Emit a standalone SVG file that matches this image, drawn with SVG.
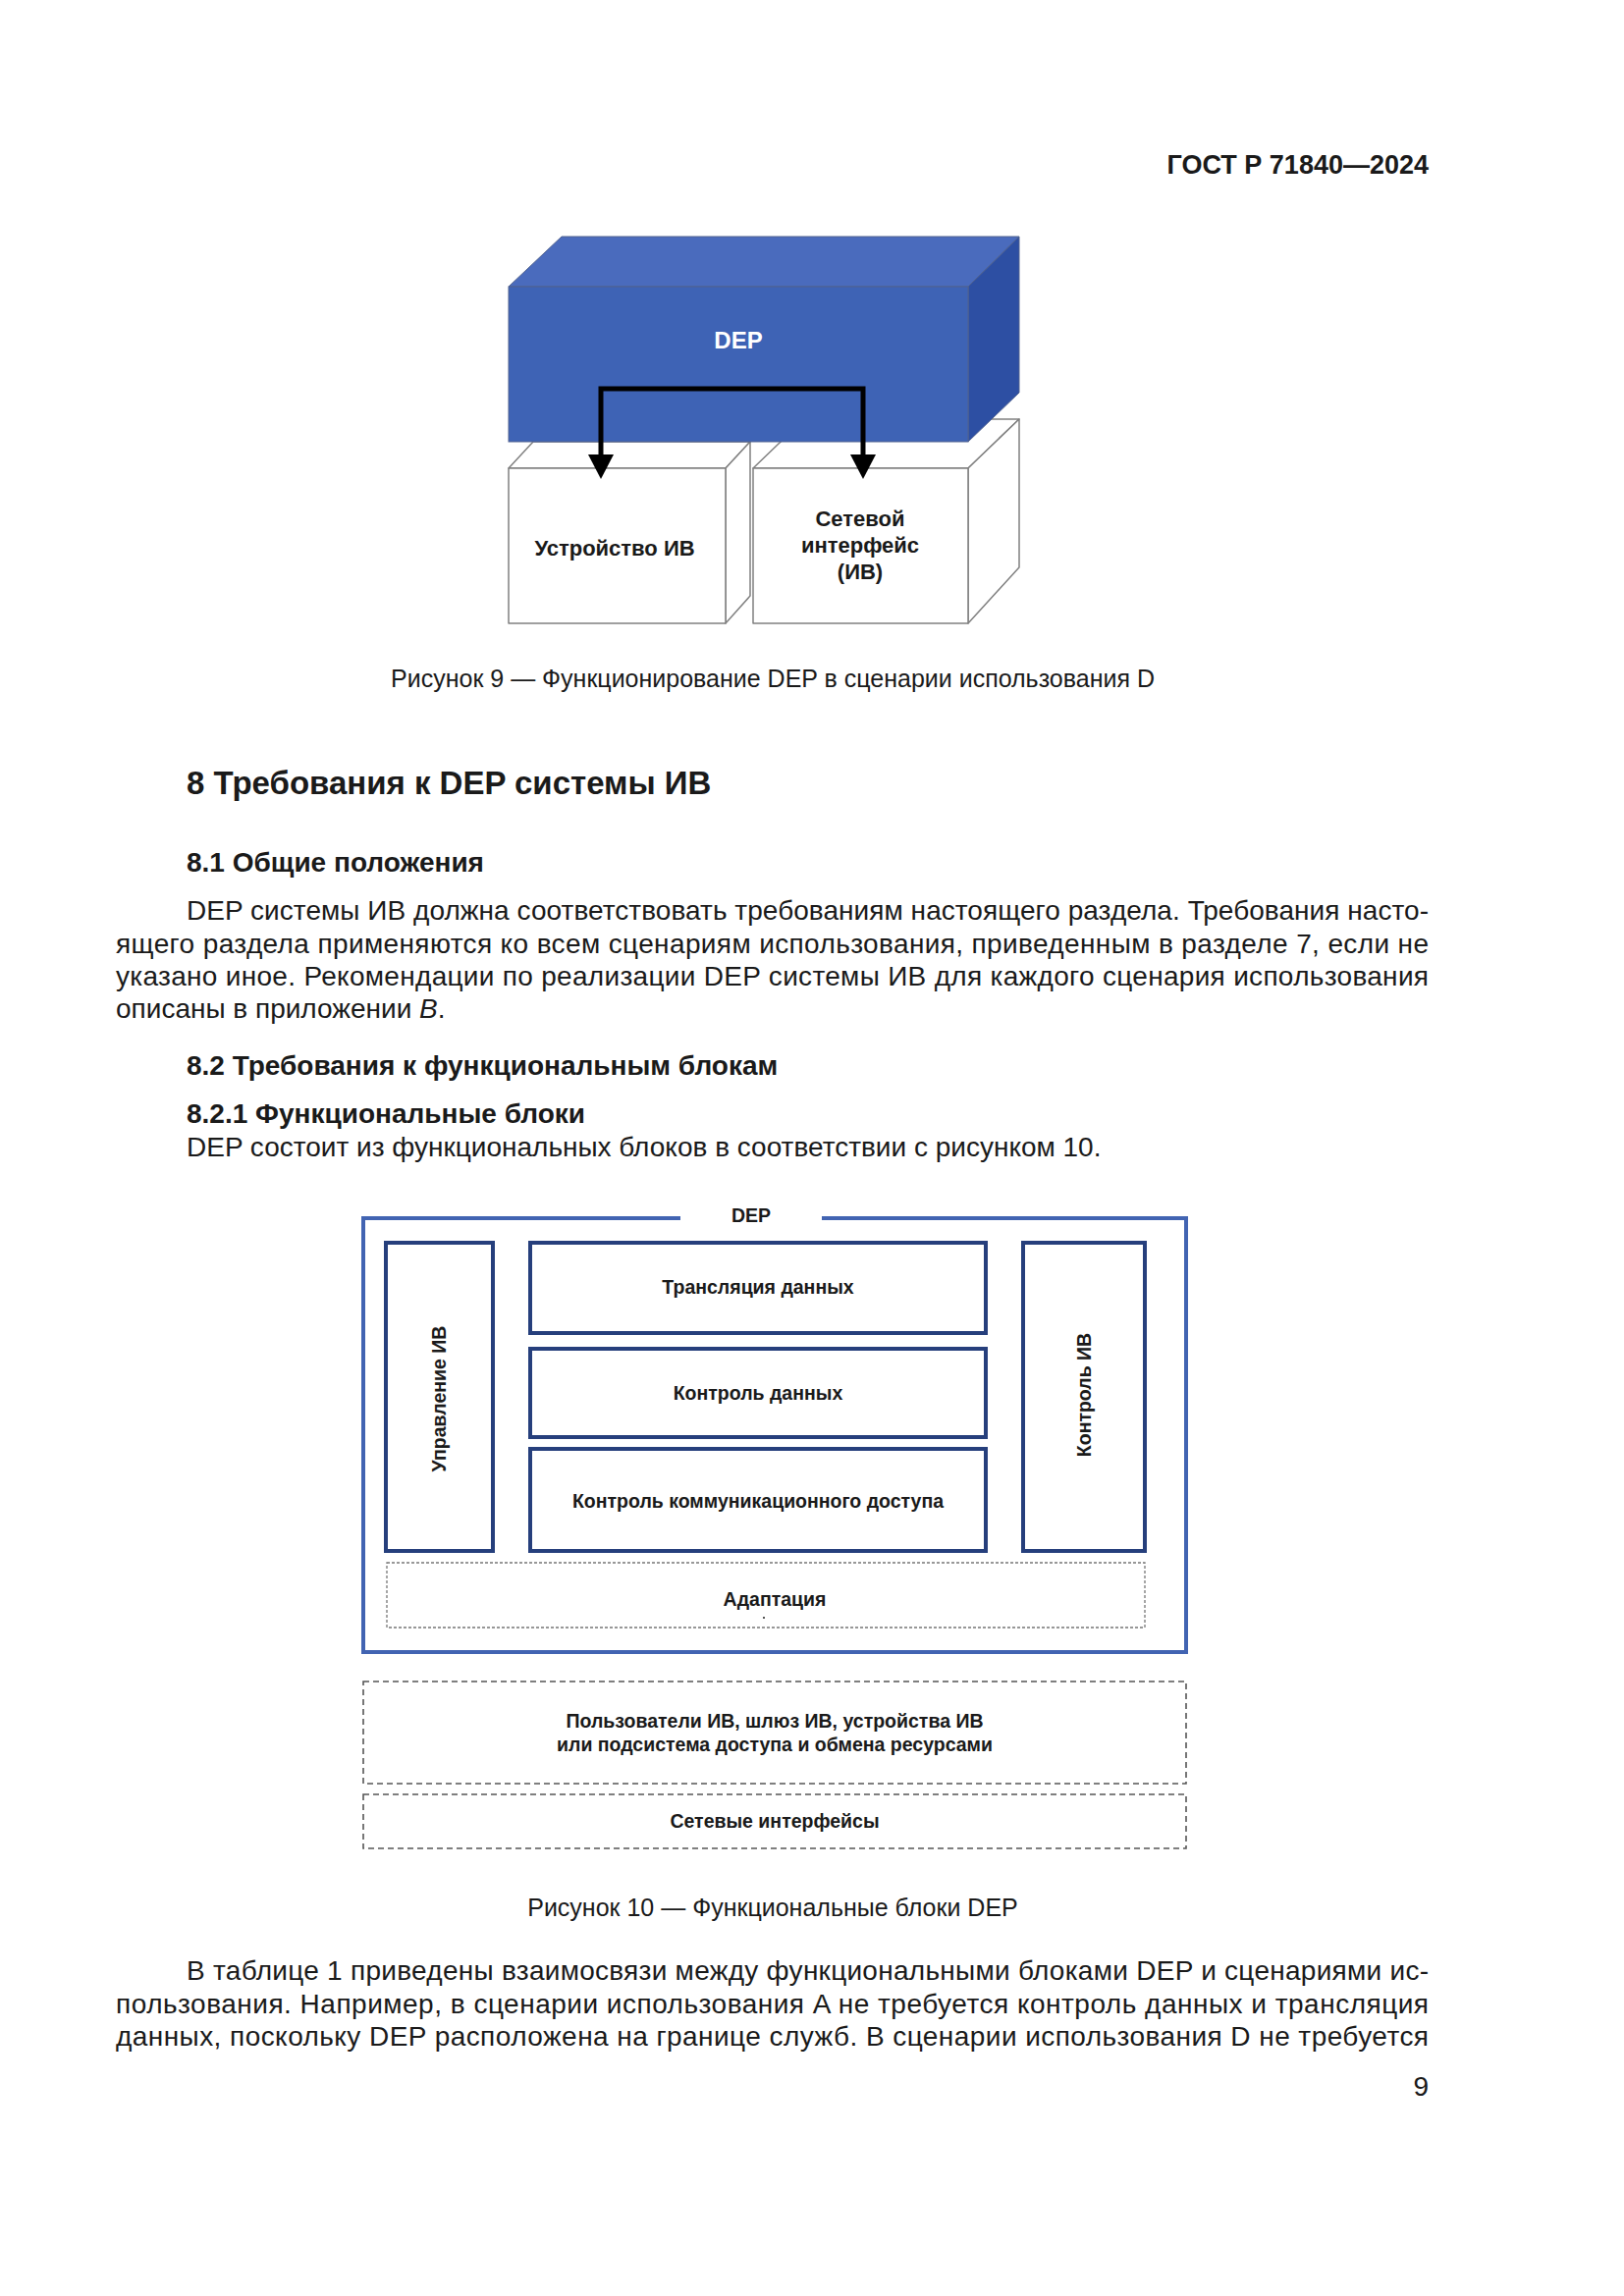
<svg xmlns="http://www.w3.org/2000/svg" width="1654" height="2339" viewBox="0 0 1654 2339">
<defs>
<style>
text{font-family:"Liberation Sans",Arial,sans-serif;fill:#1a1a1a}
.hdr{font-size:27px;font-weight:bold}
.h1{font-size:33px;font-weight:bold}
.h2{font-size:28px;font-weight:bold}
.body{font-size:28px}
.cap{font-size:25px;text-anchor:middle}
.f9{font-size:22px;font-weight:bold;text-anchor:middle}
.f10{font-size:19.5px;font-weight:bold;text-anchor:middle}
.wbox{fill:#ffffff;stroke:#808080;stroke-width:1.5;stroke-linejoin:round}
.outer{fill:none;stroke:#4264b2;stroke-width:4}
.inner{fill:#ffffff;stroke:#263f7c;stroke-width:4}
.dash1{fill:none;stroke:#777;stroke-width:1.3;stroke-dasharray:3 2}
.dash2{fill:none;stroke:#555;stroke-width:1.6;stroke-dasharray:6 4}
.conn{fill:none;stroke:#000;stroke-width:5}
</style>
<marker id="ah" markerUnits="userSpaceOnUse" markerWidth="26" markerHeight="26" viewBox="0 0 26 26" refX="0" refY="13" orient="auto-start-reverse">
<path d="M0,0 L25,13 L0,26 z" fill="#000"/>
</marker>
</defs>
<rect width="1654" height="2339" fill="#ffffff"/>

<text class="hdr" x="1455" y="177" text-anchor="end">ГОСТ Р 71840—2024</text>

<!-- Figure 9 -->
<g id="node-device">
<polygon class="wbox" points="518,477 543,450 764,450 739,477"/>
<polygon class="wbox" points="739,477 764,450 764,607 739,635"/>
<rect class="wbox" x="518" y="477" width="221" height="158"/>
<text class="f9" x="626" y="566">Устройство ИВ</text>
</g>
<g id="node-netif">
<polygon class="wbox" points="767,477 819,427 1038,427 986,477"/>
<polygon class="wbox" points="986,477 1038,427 1038,578 986,635"/>
<rect class="wbox" x="767" y="477" width="219" height="158"/>
<text class="f9" x="876" y="536">Сетевой</text>
<text class="f9" x="876" y="563">интерфейс</text>
<text class="f9" x="876" y="590">(ИВ)</text>
</g>
<g id="node-dep">
<polygon points="518,292 572,241 1038,241 986,292" fill="#4a6bbd" stroke="#50628f" stroke-width="1"/>
<polygon points="986,292 1038,241 1038,400 986,450" fill="#2d4fa3" stroke="#50628f" stroke-width="1"/>
<rect x="518" y="292" width="468" height="158" fill="#3e63b5" stroke="#50628f" stroke-width="1"/>
<text x="752" y="355" font-size="24" font-weight="bold" text-anchor="middle" style="fill:#ffffff">DEP</text>
</g>
<g id="connectors-fig9">
<path class="conn" d="M612,463 V396 H879 V463" marker-start="url(#ah)" marker-end="url(#ah)"/>
</g>
<text class="cap" x="787" y="700">Рисунок 9 — Функционирование DEP в сценарии использования D</text>

<!-- Section text -->
<text class="h1" x="190" y="809">8 Требования к DEP системы ИВ</text>
<text class="h2" x="190" y="888">8.1 Общие положения</text>
<text class="body" x="190" y="937" textLength="1265" lengthAdjust="spacing">DEP системы ИВ должна соответствовать требованиям настоящего раздела. Требования насто-</text>
<text class="body" x="118" y="971" textLength="1337" lengthAdjust="spacing">ящего раздела применяются ко всем сценариям использования, приведенным в разделе 7, если не</text>
<text class="body" x="118" y="1004" textLength="1337" lengthAdjust="spacing">указано иное. Рекомендации по реализации DEP системы ИВ для каждого сценария использования</text>
<text class="body" x="118" y="1037">описаны в приложении <tspan font-style="italic">B</tspan>.</text>
<text class="h2" x="190" y="1095">8.2 Требования к функциональным блокам</text>
<text class="h2" x="190" y="1144">8.2.1 Функциональные блоки</text>
<text class="body" x="190" y="1178">DEP состоит из функциональных блоков в соответствии с рисунком 10.</text>

<!-- Figure 10 -->
<g id="node-dep-frame">
<path class="outer" d="M693,1241 H370 V1683 H1208 V1241 H837"/>
<text class="f10" x="765" y="1245">DEP</text>
</g>
<g id="node-mgmt">
<rect class="inner" x="393" y="1266" width="109" height="314"/>
<text class="f10" transform="translate(454,1425) rotate(-90)">Управление ИВ</text>
</g>
<g id="node-translation">
<rect class="inner" x="540" y="1266" width="464" height="92"/>
<text class="f10" x="772" y="1318">Трансляция данных</text>
</g>
<g id="node-datacontrol">
<rect class="inner" x="540" y="1374" width="464" height="90"/>
<text class="f10" x="772" y="1426">Контроль данных</text>
</g>
<g id="node-comm">
<rect class="inner" x="540" y="1476" width="464" height="104"/>
<text class="f10" x="772" y="1536">Контроль коммуникационного доступа</text>
</g>
<g id="node-ivcontrol">
<rect class="inner" x="1042" y="1266" width="124" height="314"/>
<text class="f10" transform="translate(1111,1421) rotate(-90)">Контроль ИВ</text>
</g>
<g id="node-adapt">
<rect class="dash1" x="394" y="1592" width="772" height="66"/>
<text class="f10" x="789" y="1636">Адаптация</text>
<rect x="777" y="1647" width="2" height="2" fill="#555"/>
</g>
<g id="node-users">
<rect class="dash2" x="370" y="1713" width="838" height="104"/>
<text class="f10" x="789" y="1760">Пользователи ИВ, шлюз ИВ, устройства ИВ</text>
<text class="f10" x="789" y="1784">или подсистема доступа и обмена ресурсами</text>
</g>
<g id="node-netifs">
<rect class="dash2" x="370" y="1828" width="838" height="55"/>
<text class="f10" x="789" y="1862">Сетевые интерфейсы</text>
</g>
<g id="connectors-fig10"></g>
<text class="cap" x="787" y="1952">Рисунок 10 — Функциональные блоки DEP</text>

<text class="body" x="190" y="2017" textLength="1265" lengthAdjust="spacing">В таблице 1 приведены взаимосвязи между функциональными блоками DEP и сценариями ис-</text>
<text class="body" x="118" y="2051" textLength="1337" lengthAdjust="spacing">пользования. Например, в сценарии использования A не требуется контроль данных и трансляция</text>
<text class="body" x="118" y="2084" textLength="1337" lengthAdjust="spacing">данных, поскольку DEP расположена на границе служб. В сценарии использования D не требуется</text>
<text class="body" x="1455" y="2135" text-anchor="end">9</text>
</svg>
